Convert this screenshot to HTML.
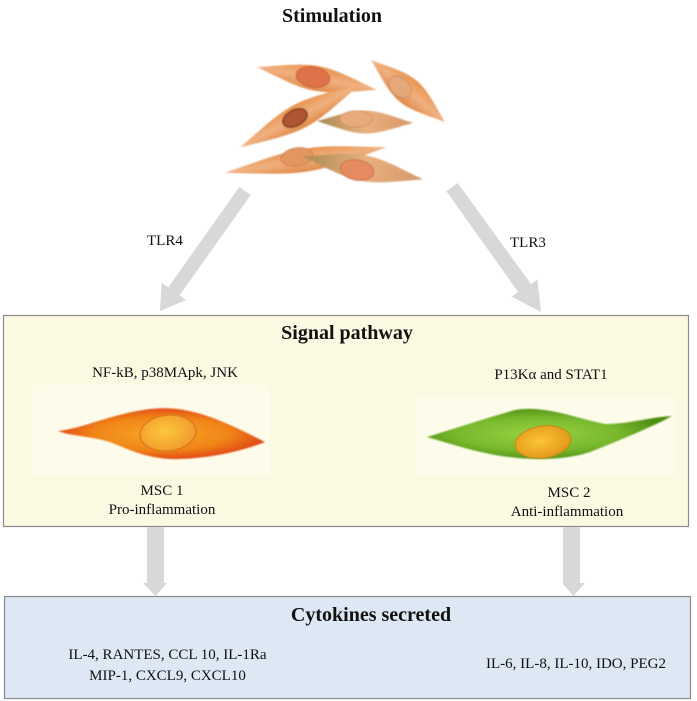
<!DOCTYPE html>
<html><head><meta charset="utf-8">
<style>
html,body{margin:0;padding:0;background:#fff;}
svg{display:block;}
text{font-family:"Liberation Serif","Times New Roman",serif;fill:#111;}
.b{font-weight:bold;font-size:20px;}
.t{font-size:15px;}
</style></head>
<body>
<svg width="697" height="701" viewBox="0 0 697 701" xmlns="http://www.w3.org/2000/svg">
<defs>
<filter id="soft" x="-10%" y="-30%" width="120%" height="160%"><feGaussianBlur stdDeviation="0.9"/></filter>
<radialGradient id="oc" cx="50%" cy="50%" r="55%">
<stop offset="0" stop-color="#f8a824"/><stop offset="0.6" stop-color="#f08418"/><stop offset="1" stop-color="#dc3a10"/>
</radialGradient>
<radialGradient id="on" cx="45%" cy="45%" r="60%">
<stop offset="0" stop-color="#fcc83c"/><stop offset="1" stop-color="#f0982a"/>
</radialGradient>
<radialGradient id="gc" cx="45%" cy="50%" r="55%">
<stop offset="0" stop-color="#98d444"/><stop offset="0.6" stop-color="#78b82c"/><stop offset="1" stop-color="#4a8a10"/>
</radialGradient>
<radialGradient id="gn" cx="45%" cy="45%" r="60%">
<stop offset="0" stop-color="#fcc436"/><stop offset="1" stop-color="#e0961a"/>
</radialGradient>
<linearGradient id="sc" x1="0" y1="0" x2="0" y2="1">
<stop offset="0" stop-color="#e8944e"/><stop offset="0.5" stop-color="#f0b080"/><stop offset="1" stop-color="#e08a48"/>
</linearGradient>
<linearGradient id="sc2" x1="0" y1="0" x2="1" y2="0">
<stop offset="0" stop-color="#a88850"/><stop offset="0.5" stop-color="#e8b080"/><stop offset="1" stop-color="#d89868"/>
</linearGradient>
<path id="sp" d="M -50 0 C -30 -5, -15 -10, 0 -10 C 15 -10, 30 -5, 50 0 C 30 5, 15 10, 0 10 C -15 10, -30 5, -50 0 Z"/>
</defs>

<!-- Title -->
<text class="b" x="332" y="22" text-anchor="middle">Stimulation</text>

<!-- Stimulation cells -->
<g filter="url(#soft)">
<!-- A -->
<g transform="translate(317,78.5) rotate(10.8) scale(1.22,1.25)"><use href="#sp" fill="url(#sc)"/></g>
<ellipse cx="313" cy="77" rx="17" ry="10" transform="rotate(10 313 77)" fill="#e0724a" stroke="#c85a34" stroke-width="1"/>
<!-- B -->
<g transform="translate(408,91) rotate(40) scale(0.96,1.35)"><use href="#sp" fill="url(#sc)"/></g>
<ellipse cx="400" cy="87" rx="13" ry="9" transform="rotate(40 400 87)" fill="#e6a878" stroke="#cc8a5c" stroke-width="1"/>
<!-- C -->
<g transform="translate(300,116) rotate(-27.7) scale(1.35,1.25)"><use href="#sp" fill="url(#sc)"/></g>
<ellipse cx="295" cy="118" rx="13" ry="8" transform="rotate(-27 295 118)" fill="#b05430" stroke="#7a3418" stroke-width="1.5"/>
<!-- D -->
<g transform="translate(365,122) rotate(1) scale(0.96,1.15)"><use href="#sp" fill="url(#sc2)"/></g>
<ellipse cx="356" cy="119" rx="16" ry="8" fill="#e8ac7c" stroke="#d09060" stroke-width="1"/>
<!-- E -->
<g transform="translate(306,160) rotate(-9) scale(1.64,1.15)"><use href="#sp" fill="url(#sc)"/></g>
<ellipse cx="297" cy="157" rx="16" ry="9" transform="rotate(-9 297 157)" fill="#e49660" stroke="#cc7c48" stroke-width="1"/>
<!-- F -->
<g transform="translate(363,168) rotate(10.8) scale(1.22,1.3)"><use href="#sp" fill="url(#sc2)"/></g>
<ellipse cx="357" cy="170" rx="17" ry="10" transform="rotate(10 357 170)" fill="#e68a60" stroke="#cc6c44" stroke-width="1"/>
</g>

<!-- Diagonal arrows -->
<polygon points="250.7,195 179.6,295.4 186.1,300.1 160,311 161.7,282.7 168.2,287.4 239.3,187" fill="#d8d8d8"/>
<polygon points="446.3,191.1 518.1,292 511.6,296.6 541,312 537.5,279.5 531.0,284.1 457.7,183" fill="#d8d8d8"/>

<text class="t" x="147" y="245">TLR4</text>
<text class="t" x="510" y="247">TLR3</text>

<!-- Signal pathway box -->
<rect x="3.5" y="315.5" width="685" height="211" fill="#fcf9e3" stroke="#8a8a8a" stroke-width="1.2"/>
<rect x="33" y="385" width="237" height="90" fill="#fdfbea"/>
<rect x="415" y="398" width="260" height="77" fill="#fdfbea"/>
<text class="b" x="347" y="339" text-anchor="middle">Signal pathway</text>
<text class="t" x="165" y="377" text-anchor="middle">NF-kB, p38MApk, JNK</text>
<text class="t" x="551" y="379" text-anchor="middle">P13Kα and  STAT1</text>

<!-- MSC1 -->
<path d="M58,431 C85,428 110,414 150,409 C185,405 215,416 265,442 C240,452 210,458 180,459 C150,460 130,450 110,442 C90,436 70,436 58,431 Z" fill="url(#oc)" filter="url(#soft)"/>
<ellipse cx="168" cy="433" rx="28" ry="18" transform="rotate(-6 168 433)" fill="url(#on)" stroke="#e07c1c" stroke-width="1.5"/>

<!-- MSC2 -->
<path d="M427,437 C450,430 480,420 515,410 C545,405 575,418 605,424 C630,424 650,417 672,416 C650,428 620,440 590,452 C560,462 520,460 490,454 C465,449 445,442 427,437 Z" fill="url(#gc)" filter="url(#soft)"/>
<ellipse cx="543" cy="442" rx="28" ry="16" transform="rotate(-8 543 442)" fill="url(#gn)" stroke="#c48a14" stroke-width="1"/>

<text class="t" x="162" y="495" text-anchor="middle">MSC 1</text>
<text class="t" x="162" y="514" text-anchor="middle">Pro-inflammation</text>
<text class="t" x="569" y="497" text-anchor="middle">MSC 2</text>
<text class="t" x="567" y="516" text-anchor="middle">Anti-inflammation</text>

<!-- Down arrows -->
<polygon points="147,527 164,527 164,583 167,583 155.5,596 143,583 147,583" fill="#d8d8d8"/>
<polygon points="563,527 580,527 580,583 585,583 573.5,596 562,583 563,583" fill="#d8d8d8"/>

<!-- Cytokines box -->
<rect x="4.5" y="596.5" width="686" height="102" fill="#dde8f4" stroke="#8a8a8a" stroke-width="1.2"/>
<text class="b" x="371" y="621" text-anchor="middle">Cytokines secreted</text>
<text class="t" x="167.5" y="659" text-anchor="middle">IL-4, RANTES, CCL 10, IL-1Ra</text>
<text class="t" x="167.5" y="680" text-anchor="middle">MIP-1, CXCL9, CXCL10</text>
<text class="t" x="576" y="668" text-anchor="middle">IL-6, IL-8, IL-10, IDO, PEG2</text>
</svg>
</body></html>
